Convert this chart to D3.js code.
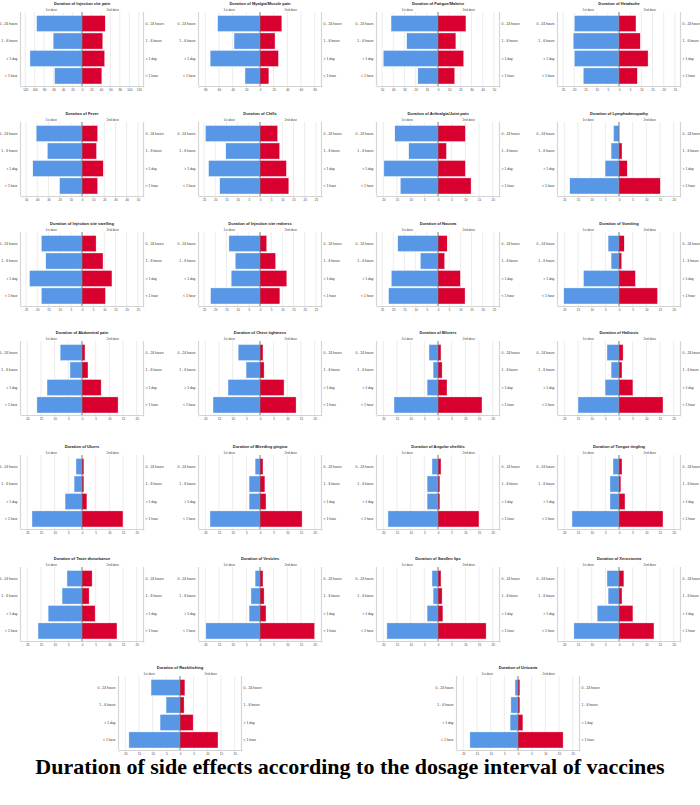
<!DOCTYPE html>
<html>
<head>
<meta charset="utf-8">
<script src="https://cdn.jsdelivr.net/npm/d3@7"></script>
<style>
  body { margin: 0; background: #fff; }
  svg { display: block; font-family: Arial, "Liberation Sans", sans-serif; }
</style>
</head>
<body>
<svg width="700" height="805"></svg>
<script>
// categories (top to bottom in every panel)
const categories = ["0 - 24 hours", "1 - 6 hours", "> 1 day", "< 1 hour"];

const titles = [
  "Injection site pain", "Myalgia/Muscle pain", "Fatigue/Malaise", "Headache",
  "Fever", "Chills", "Arthralgia/Joint pain", "Lymphadenopathy",
  "Injection site swelling", "Injection site redness", "Nausea", "Vomiting",
  "Abdominal pain", "Chest tightness", "Blisters", "Halitosis",
  "Ulcers", "Bleeding gingiva", "Angular cheilitis", "Tongue tingling",
  "Taste disturbance", "Vesicles", "Swollen lips", "Xerostomia",
  "Rash/itching", "Urticaria"
];

// 1st dose counts, same order as categories
const dose1 = [
  [96, 61, 110, 58], [62, 38, 73, 22], [42, 28, 49, 18], [20, 20.5, 20, 16],
  [41, 31, 44, 20], [24.4, 15.3, 23, 18], [15.8, 10.7, 19.8, 13.8], [2, 2.9, 5.1, 18],
  [18.2, 16.2, 23.5, 18.2], [13.9, 11.1, 12.9, 22.1], [18, 7.9, 20.9, 22.1], [4, 2.9, 13, 20.2],
  [8, 4.4, 12.8, 16.5], [8, 5.1, 11.7, 17.2], [3.3, 1.8, 4, 16.1], [4.4, 2.9, 5.1, 15],
  [2.2, 2.9, 6.2, 18.3], [1.8, 4, 4, 18.3], [2.2, 4, 4, 18.3], [2.2, 3.3, 3.3, 17.2],
  [5.5, 7.3, 12.4, 16.1], [1.8, 3.3, 4, 19.8], [2.2, 1.8, 4, 18.7], [4.4, 4, 8, 16.5],
  [10.6, 5.1, 7.3, 18.7], [1.1, 2.6, 2.9, 17.6]
];

// 2nd dose counts
const dose2 = [
  [49, 44, 48, 42], [32, 22, 27, 13], [25, 16, 23, 15], [7.6, 9.5, 13, 8.2],
  [14, 13, 19, 14], [7.9, 8.8, 11.8, 12.9], [10, 3.1, 10, 12.1], [0, 1.1, 3, 15.1],
  [6.3, 9.4, 13.4, 10.5], [3, 7, 12, 8.9], [4.1, 3, 10, 12.1], [1.9, 1, 6, 14.1],
  [1.1, 2.2, 7, 13.2], [1.1, 1.5, 8.8, 13.2], [1.1, 1.5, 3.3, 16.1], [1.5, 1.1, 5.1, 16.1],
  [0.7, 0.7, 1.8, 15], [1.1, 1.8, 2.2, 15.4], [1.1, 0.7, 0.7, 15], [1.1, 0.7, 2.2, 16.1],
  [3.7, 2.6, 4.8, 12.8], [1.1, 1.5, 2.2, 20], [1.1, 1.5, 1.8, 17.6], [1.8, 1.1, 5.1, 12.8],
  [1.8, 1.5, 4.8, 13.9], [0.7, 0.7, 1.8, 16.5]
];

// axis tick extent and step of each panel
const tickMax = [120, 80, 50, 25, 50, 25, 20, 20, 25, 25, 25, 20,
  20, 20, 20, 20, 20, 20, 20, 20, 20, 20, 20, 20, 20, 20];
const tickStep = [20, 20, 10, 5, 10, 5, 5, 5, 5, 5, 5, 5,
  5, 5, 5, 5, 5, 5, 5, 5, 5, 5, 5, 5, 5, 5];

const mainTitle = "Duration of side effects according to the dosage interval of vaccines";

const blue = "#5797e6";
const red = "#d7002f";

const svg = d3.select("svg");

const colCenters = [82, 260, 438, 619];
const lastRowCenters = [180, 518];
const rowTops = [0, 110, 220, 329, 443, 555, 664];
const half = 61.5;

function drawPanel(i, cx, top) {
  const x0 = cx - half, x1 = cx + half;
  const m = tickMax[i] + tickStep[i] / 2;
  const x = d3.scaleLinear().domain([-m, m]).range([x0, x1]);
  const y = d3.scaleBand().domain(categories)
    .range([top + 15.5, top + 84]).paddingInner(0.08);
  const ticks = d3.range(-tickMax[i], tickMax[i] + 1e-6, tickStep[i]);
  const g = svg.append("g");

  // grid
  g.selectAll(".grid").data(ticks).enter().append("line")
    .attr("x1", d => x(d)).attr("x2", d => x(d))
    .attr("y1", top + 12).attr("y2", top + 86)
    .attr("stroke", "#e4e4e4").attr("stroke-width", 0.7);

  // frame sides
  g.selectAll(".side").data([x0, x1]).enter().append("line")
    .attr("x1", d => d).attr("x2", d => d)
    .attr("y1", top + 12).attr("y2", top + 86)
    .attr("stroke", "#d6d6d6").attr("stroke-width", 1.2);

  // bottom axis
  const ax = g.append("g")
    .attr("transform", `translate(0,${top + 86})`)
    .call(d3.axisBottom(x).tickValues(ticks).tickSize(1.5).tickPadding(1)
      .tickFormat(d => Math.abs(d)));
  ax.select(".domain").attr("stroke", "#c8c8c8").attr("stroke-width", 0.8);
  ax.selectAll(".tick line").attr("stroke", "#c8c8c8").attr("stroke-width", 0.6);
  ax.selectAll("text").attr("font-size", 3).attr("fill", "#444");

  // bars
  g.selectAll(".b1").data(categories).enter().append("rect")
    .attr("x", (c, k) => x(-dose1[i][k]))
    .attr("width", (c, k) => x(0) - x(-dose1[i][k]))
    .attr("y", c => y(c)).attr("height", y.bandwidth())
    .attr("fill", blue).attr("stroke", "#fff").attr("stroke-width", 0.4);
  g.selectAll(".b2").data(categories).enter().append("rect")
    .attr("x", x(0))
    .attr("width", (c, k) => x(dose2[i][k]) - x(0))
    .attr("y", c => y(c)).attr("height", y.bandwidth())
    .attr("fill", red).attr("stroke", "#fff").attr("stroke-width", 0.4);

  // centre line
  g.append("line")
    .attr("x1", x(0)).attr("x2", x(0))
    .attr("y1", top + 12).attr("y2", top + 86)
    .attr("stroke", "#333").attr("stroke-width", 0.6);

  // category labels both sides
  g.selectAll(".ll").data(categories).enter().append("text")
    .attr("x", x0 - 3).attr("y", c => y(c) + y.bandwidth() / 2 + 1.2)
    .attr("text-anchor", "end").attr("font-size", 3.4).attr("fill", "#333")
    .text(c => c);
  g.selectAll(".rl").data(categories).enter().append("text")
    .attr("x", x1 + 2).attr("y", c => y(c) + y.bandwidth() / 2 + 1.2)
    .attr("text-anchor", "start").attr("font-size", 3.4).attr("fill", "#333")
    .text(c => c);

  // titles
  g.append("text")
    .attr("x", cx).attr("y", top + 5)
    .attr("text-anchor", "middle").attr("font-size", 4).attr("font-weight", "bold")
    .attr("fill", "#222")
    .text("Duration of " + titles[i]);
  g.append("text")
    .attr("x", (x0 + x(0)) / 2).attr("y", top + 11)
    .attr("text-anchor", "middle").attr("font-size", 3).attr("fill", "#444")
    .text("1st dose");
  g.append("text")
    .attr("x", (x1 + x(0)) / 2).attr("y", top + 11)
    .attr("text-anchor", "middle").attr("font-size", 3).attr("fill", "#444")
    .text("2nd dose");
}

titles.forEach((t, i) => {
  const row = Math.floor(i / 4);
  const col = i % 4;
  const cx = row < 6 ? colCenters[col] : lastRowCenters[col];
  drawPanel(i, cx, rowTops[row]);
});

svg.append("text")
  .attr("x", 350).attr("y", 774)
  .attr("text-anchor", "middle")
  .attr("font-family", "'Liberation Serif', 'Times New Roman', serif")
  .attr("font-weight", "bold").attr("font-size", 22)
  .attr("fill", "#000")
  .text(mainTitle);
</script>
</body>
</html>
